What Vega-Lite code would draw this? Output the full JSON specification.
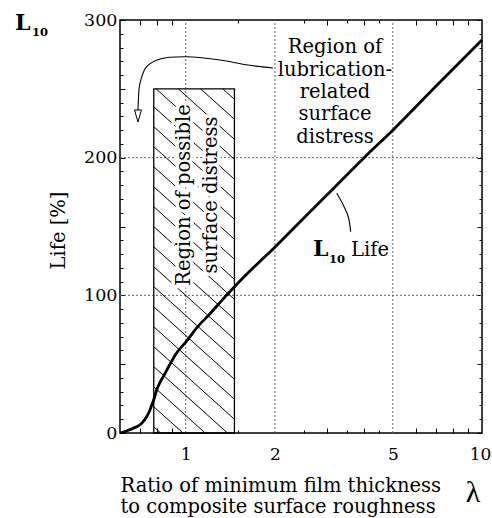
{
  "$schema": "https://vega.github.io/schema/vega-lite/v6.json",
  "width": 362,
  "height": 413,
  "autosize": {"type": "none"},
  "padding": {"left": 120, "top": 20, "right": 10, "bottom": 85},
  "config": {
    "view": {"stroke": "black", "strokeWidth": 1.5},
    "font": "DejaVu Serif"
  },
  "datasets": {
    "gx": [{"x": 1, "y": 0, "y2": 300}, {"x": 2, "y": 0, "y2": 300}, {"x": 5, "y": 0, "y2": 300}],
    "gy": [{"x": 0.6, "x2": 10, "y": 100}, {"x": 0.6, "x2": 10, "y": 200}],
    "curve": [
      {"x": 0.6, "y": 0}, {"x": 0.665, "y": 3.4}, {"x": 0.71, "y": 7}, {"x": 0.738, "y": 11.8},
      {"x": 0.755, "y": 16}, {"x": 0.768, "y": 20.3}, {"x": 0.785, "y": 26}, {"x": 0.798, "y": 31.2},
      {"x": 0.82, "y": 37}, {"x": 0.84, "y": 41}, {"x": 0.88, "y": 49}, {"x": 0.93, "y": 58},
      {"x": 1.0, "y": 66}, {"x": 1.1, "y": 77.5}, {"x": 1.2, "y": 86}, {"x": 1.32, "y": 96},
      {"x": 1.45, "y": 105.5}, {"x": 1.7, "y": 120.5}, {"x": 2, "y": 135}, {"x": 2.5, "y": 156},
      {"x": 3, "y": 173}, {"x": 4, "y": 200}, {"x": 5, "y": 220}, {"x": 7, "y": 252}, {"x": 10, "y": 285.5}
    ],
    "arrow": [
      {"i": 1, "x": 1.971, "y": 265.1}, {"i": 2, "x": 1.623, "y": 267.3}, {"i": 3, "x": 1.305, "y": 270.9},
      {"i": 4, "x": 1.008, "y": 273.3}, {"i": 5, "x": 0.819, "y": 271.7}, {"i": 6, "x": 0.738, "y": 266.1},
      {"i": 7, "x": 0.701, "y": 254.2}, {"i": 8, "x": 0.692, "y": 241.9}, {"i": 9, "x": 0.69, "y": 233}
    ],
    "tag": [
      {"i": 1, "x": 3.233, "y": 174.1}, {"i": 2, "x": 3.402, "y": 165.6},
      {"i": 3, "x": 3.537, "y": 157.1}, {"i": 4, "x": 3.604, "y": 146.2}
    ],
    "head": [{"x": 0.69, "y": 230.3}],
    "box": [{"x": 0.78, "x2": 1.46, "y": 0, "y2": 250}],
    "hatch": [
      {"x": 1.334, "y": 250, "x2": 1.46, "y2": 242.4},
      {"x": 1.122, "y": 250, "x2": 1.46, "y2": 227.9},
      {"x": 0.944, "y": 250, "x2": 1.46, "y2": 213.3},
      {"x": 0.794, "y": 250, "x2": 1.46, "y2": 198.8},
      {"x": 0.78, "y": 237.0, "x2": 1.46, "y2": 184.3},
      {"x": 0.78, "y": 222.5, "x2": 1.46, "y2": 169.8},
      {"x": 0.78, "y": 208.0, "x2": 1.46, "y2": 155.2},
      {"x": 0.78, "y": 193.4, "x2": 1.46, "y2": 140.7},
      {"x": 0.78, "y": 178.9, "x2": 1.46, "y2": 126.2},
      {"x": 0.78, "y": 164.4, "x2": 1.46, "y2": 111.6},
      {"x": 0.78, "y": 149.9, "x2": 1.46, "y2": 97.1},
      {"x": 0.78, "y": 135.3, "x2": 1.46, "y2": 82.6},
      {"x": 0.78, "y": 120.8, "x2": 1.46, "y2": 68.1},
      {"x": 0.78, "y": 106.3, "x2": 1.46, "y2": 53.5},
      {"x": 0.78, "y": 91.7, "x2": 1.46, "y2": 39.0},
      {"x": 0.78, "y": 77.2, "x2": 1.46, "y2": 24.5},
      {"x": 0.78, "y": 62.7, "x2": 1.46, "y2": 10.0},
      {"x": 0.78, "y": 48.2, "x2": 1.383, "y2": 0},
      {"x": 0.78, "y": 33.6, "x2": 1.163, "y2": 0},
      {"x": 0.78, "y": 19.1, "x2": 0.979, "y2": 0},
      {"x": 0.78, "y": 4.6, "x2": 0.823, "y2": 0}
    ],
    "bigL": [{"x": 0.2653, "y": 292.7, "t": "L"}, {"x": 2.689, "y": 128.6, "t": "L"}],
    "sub": [{"x": 0.3029, "y": 288.4, "t": "10"}, {"x": 3.045, "y": 123.5, "t": "10"}],
    "life": [{"x": 3.613, "y": 128.6, "t": "Life"}],
    "note": [{"x": 3.19, "y": 275.8, "t": "Region of\nlubrication-\nrelated\nsurface\ndistress"}],
    "zone": [{"x": 0.987, "y": 172.9, "t": "Region of possible\nsurface distress"}],
    "lam": [{"x": 9.325, "y": -50.1, "t": "λ"}]
  },
  "layer": [
    {
      "encoding": {
        "x": {
          "field": "x", "type": "quantitative",
          "scale": {"type": "log", "domain": [0.6, 10], "nice": false},
          "axis": {
            "orient": "bottom",
            "domain": false,
            "grid": false,
            "values": [0.7, 0.8, 0.9, 1, 1.5, 2, 2.5, 3, 3.5, 4, 4.5, 5, 6, 7, 8, 9, 10],
            "labelExpr": "indexof([1,2,5,10], datum.value) >= 0 ? format(datum.value, 'd') : ''",
            "labelFont": "DejaVu Serif",
            "labelColor": "black",
            "labelFontSize": 17,
            "labelPadding": 13,
            "labelFlush": false,
            "labelOverlap": false,
            "labelOffset": {"condition": {"test": "datum.value == 10", "value": -2}, "value": 0},
            "tickColor": "black",
            "tickWidth": 1,
            "tickSize": {"condition": [{"test": "indexof([1,2,5,10], datum.value) >= 0", "value": 0}, {"test": "indexof([1.5,2.5,3.5,4.5], datum.value) >= 0", "value": -3}], "value": -5},
            "title": ["Ratio of minimum film thickness", "to composite surface roughness"],
            "titleFont": "DejaVu Serif",
            "titleFontWeight": "normal",
            "titleColor": "black",
            "titleFontSize": 19.5,
            "titleLineHeight": 21.5,
            "titleAnchor": "start",
            "titleAlign": "left",
            "titleBaseline": "alphabetic",
            "titleX": 0,
            "titleY": 58
          }
        },
        "y": {
          "field": "y", "type": "quantitative",
          "scale": {"domain": [0, 300], "nice": false, "zero": false},
          "axis": {
            "orient": "left",
            "domain": false,
            "grid": false,
            "values": [0,10,20,30,40,50,60,70,80,90,100,110,120,130,140,150,160,170,180,190,200,210,220,230,240,250,260,270,280,290,300],
            "labelExpr": "datum.value % 100 == 0 ? format(datum.value, 'd') : ''",
            "labelFont": "DejaVu Serif",
            "labelColor": "black",
            "labelFontSize": 17.5,
            "labelPadding": 8,
            "labelFlush": false,
            "labelOverlap": false,
            "labelBaseline": "middle",
            "tickColor": "black",
            "tickWidth": 1,
            "tickSize": {"condition": {"test": "datum.value % 50 == 0", "value": -5}, "value": -3},
            "title": "Life [%]",
            "titleFont": "DejaVu Serif",
            "titleFontWeight": "normal",
            "titleColor": "black",
            "titleFontSize": 19.5,
            "titleAngle": 270,
            "titleAlign": "center",
            "titleBaseline": "middle",
            "titleX": -62,
            "titleY": 210
          }
        }
      },
      "layer": [
        {"data": {"name": "gx"}, "mark": {"type": "rule", "color": "#666", "strokeWidth": 1, "strokeDash": [2, 2]}, "encoding": {"y2": {"field": "y2"}}},
        {"data": {"name": "gy"}, "mark": {"type": "rule", "color": "#666", "strokeWidth": 1, "strokeDash": [2, 2]}, "encoding": {"x2": {"field": "x2"}}},
        {"data": {"name": "hatch"}, "mark": {"type": "rule", "color": "black", "strokeWidth": 1}, "encoding": {"x2": {"field": "x2"}, "y2": {"field": "y2"}}},
        {"data": {"name": "box"}, "mark": {"type": "rect", "filled": false, "stroke": "black", "strokeWidth": 1.3}, "encoding": {"x2": {"field": "x2"}, "y2": {"field": "y2"}}},
        {"data": {"name": "zone"}, "mark": {"type": "text", "lineBreak": "\n", "angle": 270, "align": "center", "baseline": "middle", "fontSize": 19.5, "lineHeight": 27, "font": "DejaVu Serif", "stroke": "white", "strokeWidth": 7, "fill": "white", "clip": false}, "encoding": {"text": {"field": "t"}}},
        {"data": {"name": "zone"}, "mark": {"type": "text", "lineBreak": "\n", "angle": 270, "align": "center", "baseline": "middle", "fontSize": 19.5, "lineHeight": 27, "font": "DejaVu Serif", "color": "black", "clip": false}, "encoding": {"text": {"field": "t"}}},
        {"data": {"name": "curve"}, "mark": {"type": "line", "color": "black", "strokeWidth": 2.8, "interpolate": "monotone"}},
        {"data": {"name": "arrow"}, "mark": {"type": "line", "color": "black", "strokeWidth": 1.1, "interpolate": "catmull-rom", "clip": false}, "encoding": {"order": {"field": "i"}}},
        {"data": {"name": "head"}, "mark": {"type": "point", "shape": "M-0.58,-1L0.58,-1L0,1Z", "size": 144, "filled": true, "fill": "white", "stroke": "black", "strokeWidth": 1, "opacity": 1}},
        {"data": {"name": "tag"}, "mark": {"type": "line", "color": "black", "strokeWidth": 1.1, "interpolate": "catmull-rom"}, "encoding": {"order": {"field": "i"}}},
        {"data": {"name": "bigL"}, "mark": {"type": "text", "align": "left", "baseline": "alphabetic", "fontSize": 22, "fontWeight": "bold", "font": "DejaVu Serif", "color": "black", "clip": false}, "encoding": {"text": {"field": "t"}}},
        {"data": {"name": "sub"}, "mark": {"type": "text", "align": "left", "baseline": "alphabetic", "fontSize": 11.5, "fontWeight": "bold", "font": "DejaVu Serif", "color": "black", "clip": false}, "encoding": {"text": {"field": "t"}}},
        {"data": {"name": "life"}, "mark": {"type": "text", "align": "left", "baseline": "alphabetic", "fontSize": 19.5, "font": "DejaVu Serif", "color": "black", "clip": false}, "encoding": {"text": {"field": "t"}}},
        {"data": {"name": "note"}, "mark": {"type": "text", "lineBreak": "\n", "align": "center", "baseline": "alphabetic", "fontSize": 19.5, "lineHeight": 22.3, "font": "DejaVu Serif", "color": "black", "clip": false}, "encoding": {"text": {"field": "t"}}},
        {"data": {"name": "lam"}, "mark": {"type": "text", "align": "center", "baseline": "alphabetic", "fontSize": 30, "font": "Liberation Serif", "color": "black", "clip": false}, "encoding": {"text": {"field": "t"}}}
      ]
    },
    {
      "data": {"values": [{"x": 1, "y": 100}]},
      "mark": {"type": "point", "opacity": 0},
      "encoding": {
        "x": {
          "field": "x", "type": "quantitative",
          "scale": {"type": "log", "domain": [0.6, 10], "nice": false},
          "axis": {
            "orient": "top",
            "domain": false,
            "values": [0.7, 0.8, 0.9, 1, 1.5, 2, 2.5, 3, 3.5, 4, 4.5, 5, 6, 7, 8, 9, 10],
            "labels": false,
            "grid": false,
            "title": null,
            "tickColor": "black",
            "tickWidth": 1,
            "tickSize": {"condition": [{"test": "indexof([1,2,5,10], datum.value) >= 0", "value": 0}, {"test": "indexof([1.5,2.5,3.5,4.5], datum.value) >= 0", "value": -3}], "value": -5}
          }
        },
        "y": {
          "field": "y", "type": "quantitative",
          "scale": {"domain": [0, 300], "nice": false, "zero": false},
          "axis": {
            "orient": "right",
            "domain": false,
            "values": [0,10,20,30,40,50,60,70,80,90,100,110,120,130,140,150,160,170,180,190,200,210,220,230,240,250,260,270,280,290,300],
            "labels": false,
            "grid": false,
            "title": null,
            "tickColor": "black",
            "tickWidth": 1,
            "tickSize": {"condition": {"test": "datum.value % 50 == 0", "value": -5}, "value": -3}
          }
        }
      }
    }
  ],
  "resolve": {"scale": {"x": "independent", "y": "independent"}}
}
